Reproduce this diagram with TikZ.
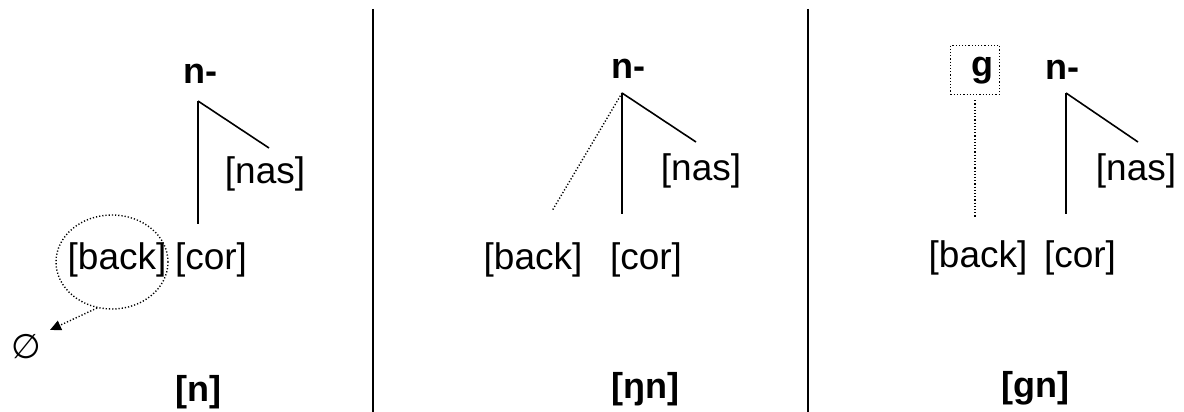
\documentclass[tikz,border=0pt]{standalone}
\usepackage{fontspec}
\setmainfont{Liberation Sans}
\newfontfamily\symfont{DejaVu Sans}
\usetikzlibrary{arrows.meta,shapes.geometric}

\tikzset{
  feat/.style={inner sep=0pt, font=\fontsize{37}{40}\selectfont},
  seg/.style={inner sep=0pt, font=\fontsize{36}{40}\selectfont\bfseries},
  branch/.style={line width=1.6pt},
  link/.style={line width=1.4pt, dash pattern=on 1.2pt off 2pt},
  divider/.style={line width=2.4pt},
}

\begin{document}
\begin{tikzpicture}[x=1pt,y=-1pt]
  \useasboundingbox (0,0) rectangle (1184,412);

  % dividers
  \coordinate (d1top) at (373,9);
  \coordinate (d1bot) at (373,412);
  \coordinate (d2top) at (808,9);
  \coordinate (d2bot) at (808,412);
  \draw[divider] (d1top) -- (d1bot);
  \draw[divider] (d2top) -- (d2bot);

  % [n]: back is lost
  \node[seg] (n1) at (200,74) {n-};
  \coordinate (top1) at (198,101);
  \coordinate (foot1) at (198,224);
  \coordinate (end1) at (269,148);
  \draw[branch] (top1) -- (foot1);
  \draw[branch] (top1) -- (end1);
  \node[feat] (nas1) at (265,174) {[nas]};
  \node[feat] (back1) at (117,260) {[back]};
  \node[feat] (cor1) at (211,260) {[cor]};
  \node[ellipse, draw, link, minimum width=112pt, minimum height=94pt,
        inner sep=0pt] (loss) at (112,262) {};
  \node[inner sep=0pt, font=\symfont\fontsize{34}{36}\selectfont]
       (empty1) at (26,347) {∅};
  \coordinate (tip1) at (50,330);
  \draw[link, -{Triangle[length=11pt,width=10pt]}] (loss.252) -- (tip1);
  \node[seg] (out1) at (198,392) {[n]};

  % [ŋn]: back spreads from n-
  \node[seg] (n2) at (628,69) {n-};
  \coordinate (top2) at (622,93);
  \coordinate (foot2) at (622,214);
  \coordinate (end2) at (696,142);
  \coordinate (spread2) at (552,211);
  \draw[branch] (top2) -- (foot2);
  \draw[branch] (top2) -- (end2);
  \draw[link] (top2) -- (spread2);
  \node[feat] (nas2) at (701,171) {[nas]};
  \node[feat] (back2) at (533,260) {[back]};
  \node[feat] (cor2) at (646,260) {[cor]};
  \node[seg] (out2) at (645,389) {[ŋn]};

  % [gn]: back goes to an inserted g
  \node[draw, link, minimum width=49pt, minimum height=49pt, inner sep=0pt]
       (gbox) at (975,70) {};
  \node[seg] (g3) at (982,71) {g};
  \coordinate (foot3g) at (975,217);
  \draw[link, shorten <=5pt] (gbox.south) -- (foot3g);
  \node[seg] (n3) at (1062,70) {n-};
  \coordinate (top3) at (1066,93);
  \coordinate (foot3) at (1066,214);
  \coordinate (end3) at (1138,142);
  \draw[branch] (top3) -- (foot3);
  \draw[branch] (top3) -- (end3);
  \node[feat] (nas3) at (1136,171) {[nas]};
  \node[feat] (back3) at (978,258) {[back]};
  \node[feat] (cor3) at (1080,258) {[cor]};
  \node[seg] (out3) at (1035,388) {[gn]};
\end{tikzpicture}
\end{document}
